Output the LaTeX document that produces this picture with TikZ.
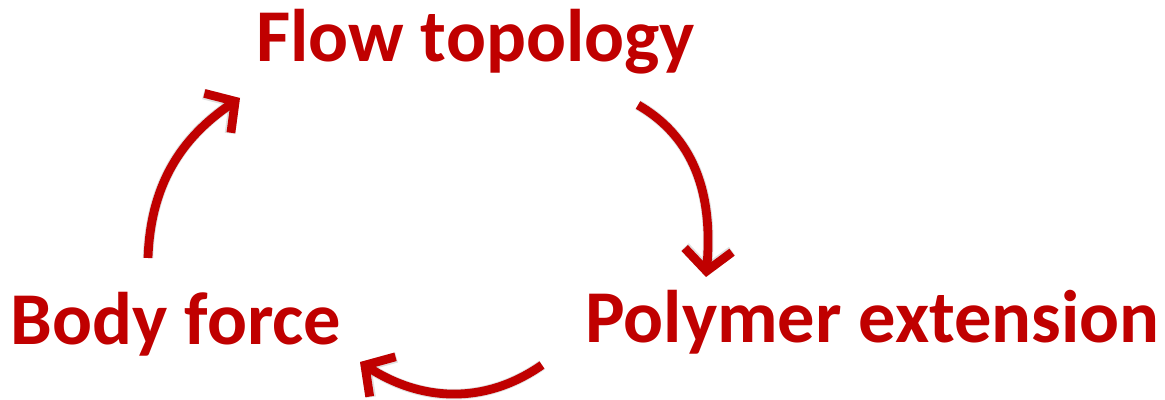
\documentclass[tikz,border=0pt]{standalone}
\usepackage{fontspec}
\setmainfont{Carlito}
\usetikzlibrary{arrows.meta}
\definecolor{cyclered}{HTML}{C00000}
\tikzset{
  label/.style={text=cyclered, inner sep=0pt, anchor=base,
    font=\bfseries\fontsize{42.4}{50}\selectfont},
  cyclearrow/.style={draw=cyclered, line width=5pt,
    -{Straight Barb[length=12pt,width=27pt,line width=5pt]}},
  arrowshade/.style={draw=black, opacity=0.12, line width=6pt,
    -{Straight Barb[length=12pt,width=27pt,line width=6pt]}}
}
\begin{document}
\begin{tikzpicture}
\useasboundingbox (0,0) rectangle (23.3,8);

\node[label] (flow) at (9.51,6.76) {Flow topology};
\node[label] (body) at (3.52,1.10) {Body force};
\node[label] (poly) at (17.45,1.14) {Polymer extension};

% arrow end points around the cycle
\coordinate (bodyout) at (2.96,2.84);
\coordinate (flowin)  at (4.80,6.04);
\coordinate (flowout) at (12.76,5.90);
\coordinate (polyin)  at (14.12,2.46);
\coordinate (polyout) at (10.84,0.70);
\coordinate (bodyin)  at (7.20,0.76);

% faint drop shadows
\begin{scope}[shift={(0.03,-0.05)}]
  \draw[arrowshade] (bodyout) to[out=88,in=214] (flowin);
  \draw[arrowshade] (flowout) to[out=-30,in=85] (polyin);
  \draw[arrowshade] (polyout) to[out=-145,in=-33] (bodyin);
\end{scope}

% cycle arrows
\draw[cyclearrow] (bodyout) to[out=88,in=214] (flowin);
\draw[cyclearrow] (flowout) to[out=-30,in=85] (polyin);
\draw[cyclearrow] (polyout) to[out=-145,in=-33] (bodyin);
\end{tikzpicture}
\end{document}
